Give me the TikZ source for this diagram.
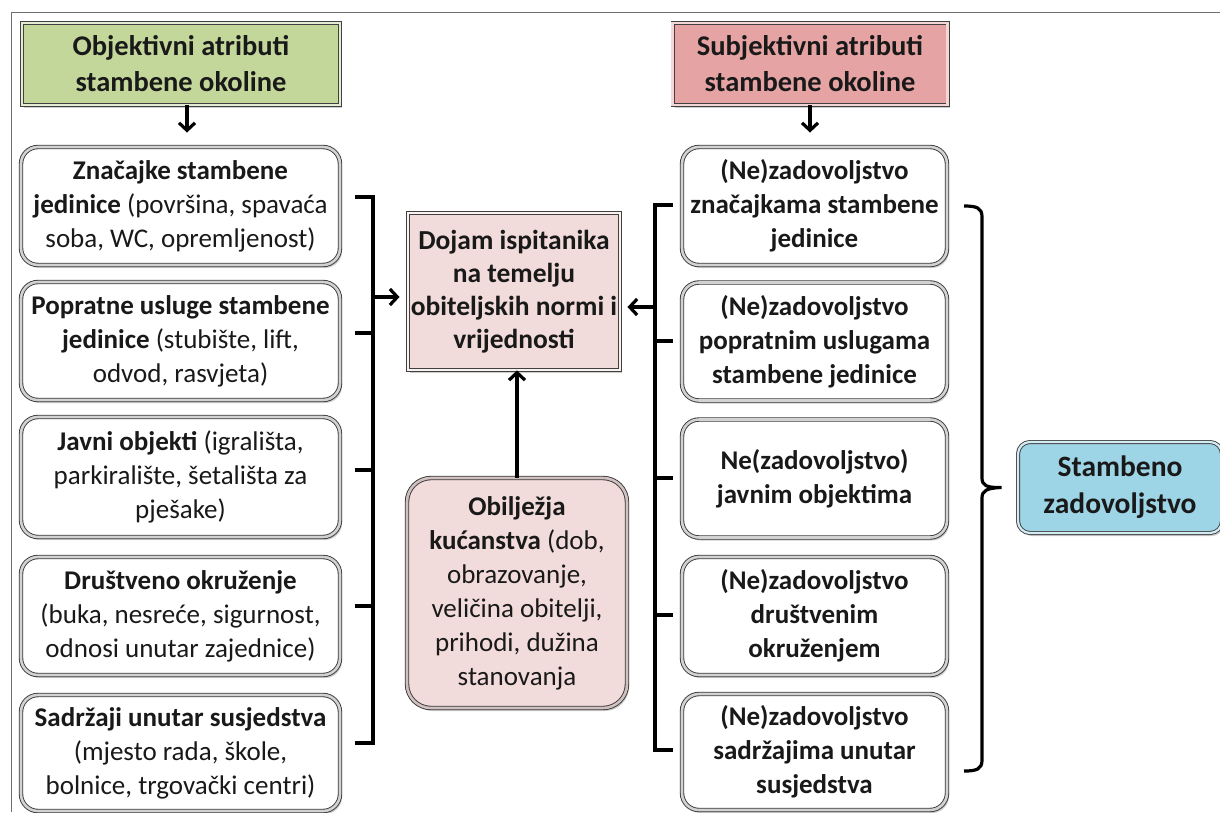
\documentclass[tikz,border=0pt]{standalone}
\usepackage{fontspec}
\setmainfont{Carlito}
\usetikzlibrary{shadows,arrows.meta}
\definecolor{gfill}{HTML}{C4D79B}
\definecolor{sfill}{HTML}{E6A3A3}
\definecolor{pfill}{HTML}{F2DCDB}
\definecolor{bfill}{HTML}{9DD4E6}
\definecolor{frame}{HTML}{6E6E6E}
\begin{document}
\begin{tikzpicture}[x=1pt,y=-1pt,
  txt/.style={font=\fontsize{27}{34}\selectfont, align=center, inner sep=0pt, text=black!90},
  shad/.style={drop shadow={opacity=0.4, shadow xshift=2pt, shadow yshift=-3pt}},
  wbox/.style={txt, shad, rounded corners=17pt, draw=gray!45!black, line width=0.9pt, double=gray!35, double distance=2.6pt, fill=white},
  sbox/.style={txt, shad, draw=black!75, line width=0.9pt, font=\fontsize{28.5}{36}\selectfont\bfseries},
  rbold/.style={font=\fontsize{27}{34}\selectfont\bfseries},
  conn/.style={line width=3.2pt, black},
  arr/.style={conn, -{Straight Barb[length=7.5pt,width=16pt]}},
]
\useasboundingbox (0,0) rectangle (1220,812);
\draw[frame, line width=1pt] (11,812) -- (11,12.5) -- (1220,12.5);

% headers
\node[sbox, fill=gfill, double=gfill!45!white, double distance=2.2pt, minimum width=318, minimum height=82] (G) at (181,64) {Objektivni atributi\\stambene okoline};
\node[sbox, fill=sfill, double=sfill!45!white, double distance=2.2pt, minimum width=275, minimum height=82] (S) at (810,64) {Subjektivni atributi\\stambene okoline};

% left column
\node[wbox, minimum width=319, minimum height=118] (L1) at (180.5,206) {\textbf{Značajke stambene}\\\textbf{jedinice} (površina, spavaća\\soba, WC, opremljenost)};
\node[wbox, minimum width=319, minimum height=118] (L2) at (180.5,341) {\textbf{Popratne usluge stambene}\\\textbf{jedinice} (stubište, lift,\\odvod, rasvjeta)};
\node[wbox, minimum width=319, minimum height=120] (L3) at (180.5,477) {\textbf{Javni objekti} (igrališta,\\parkiralište, šetališta za\\pješake)};
\node[wbox, minimum width=319, minimum height=118] (L4) at (180.5,616) {\textbf{Društveno okruženje}\\(buka, nesreće, sigurnost,\\odnosi unutar zajednice)};
\node[wbox, minimum width=319, minimum height=116] (L5) at (180.5,753) {\textbf{Sadržaji unutar susjedstva}\\(mjesto rada, škole,\\bolnice, trgovački centri)};

% right column
\node[wbox, rbold, minimum width=265, minimum height=118] (R1) at (814.5,206) {(Ne)zadovoljstvo\\značajkama stambene\\jedinice};
\node[wbox, rbold, minimum width=265, minimum height=118] (R2) at (814.5,341.5) {(Ne)zadovoljstvo\\popratnim uslugama\\stambene jedinice};
\node[wbox, rbold, minimum width=265, minimum height=118] (R3) at (814.5,478.5) {Ne(zadovoljstvo)\\javnim objektima};
\node[wbox, rbold, minimum width=265, minimum height=118] (R4) at (814.5,616) {(Ne)zadovoljstvo\\društvenim\\okruženjem};
\node[wbox, rbold, minimum width=265, minimum height=116] (R5) at (814.5,752) {(Ne)zadovoljstvo\\sadržajima unutar\\susjedstva};

% middle
\node[sbox, fill=pfill, double=pfill!40!white, double distance=2.2pt, font=\fontsize{27.5}{33}\selectfont\bfseries, minimum width=212, minimum height=157] (D) at (514,291.5) {Dojam ispitanika\\na temelju\\obiteljskih normi i\\vrijednosti};
\node[wbox, fill=pfill, double=pfill!70!gray, minimum width=220, minimum height=230, rounded corners=24pt] (O) at (517,593) {\textbf{Obilježja}\\\textbf{kućanstva} (dob,\\obrazovanje,\\veličina obitelji,\\prihodi, dužina\\stanovanja};

% result
\node[sbox, fill=bfill, double=bfill!45!white, double distance=2.2pt, rounded corners=12pt, font=\fontsize{29.5}{37}\selectfont\bfseries, minimum width=204, minimum height=91] (Z) at (1120,487.5) {Stambeno\\zadovoljstvo};

% arrows from headers
\draw[arr, shorten >=14pt] ([xshift=6pt]G.south) -- ([xshift=6pt]G.south |- L1.north);
\draw[arr, shorten >=14pt] (S.south) -- (S.south |- R1.north);

% household to impression
\draw[arr] (O.north) -- (O.north |- D.south);

% left bracket
\coordinate (lbt) at (355,197);
\coordinate (lbb) at (355,743);
\coordinate (lbv) at (373,743);
\draw[conn] (lbt) -| (lbv) -- (lbb);
\foreach \yy in {333,470,606} \draw[conn] (355,\yy) -- (373,\yy);
\coordinate (la) at (373,297);
\draw[arr, shorten >=8pt] (la) -- (la -| D.west);

% right bracket
\coordinate (rbt) at (673,205);
\coordinate (rbb) at (673,750);
\coordinate (rbv) at (655,750);
\draw[conn] (rbt) -| (rbv) -- (rbb);
\foreach \yy in {341,478,615} \draw[conn] (655,\yy) -- (673,\yy);
\coordinate (ra) at (655,307);
\draw[arr, shorten >=7pt] (ra) -- (ra -| D.east);

% brace to result
\coordinate (bt) at (964,206);
\coordinate (bb) at (964,771);
\coordinate (bm) at ([xshift=-16pt]Z.west);
\draw[conn] (bt) .. controls (977,206) and (982,208) .. (982,217) -- (982,478)
  .. controls (982,485) and (986,488) .. (bm)
  .. controls (986,488) and (982,491) .. (982,498) -- (982,760)
  .. controls (982,769) and (977,771) .. (bb);
\end{tikzpicture}
\end{document}
